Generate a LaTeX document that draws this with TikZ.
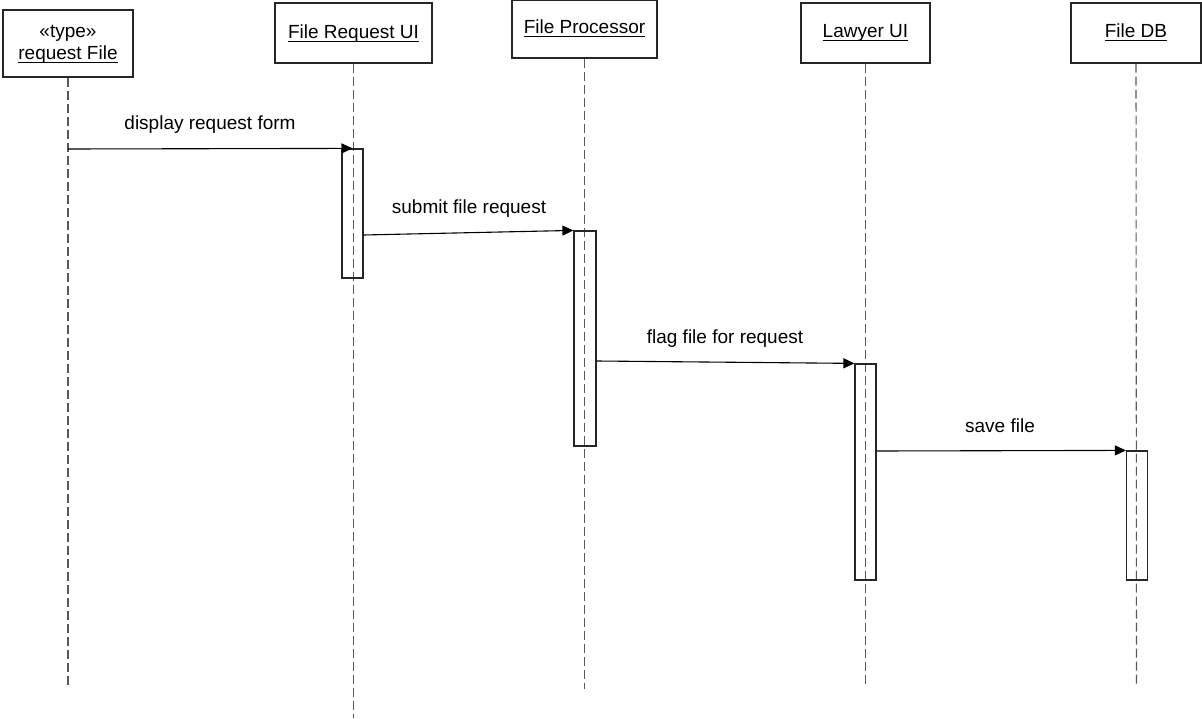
\documentclass[tikz,border=0pt]{standalone}
\usepackage{fontspec}
\setmainfont{Liberation Sans}
\usetikzlibrary{arrows.meta,calc}
% underline at a fixed depth below the baseline
\newcommand\undl[1]{\setbox0\hbox{#1}\rlap{\rule[-3pt]{\wd0}{0.9pt}}\box0}
\tikzset{
  head/.style={draw=black!85, line width=1.2pt, fill=white, inner sep=0pt},
  actbox/.style={draw=black!85, line width=1.2pt, inner sep=0pt, minimum width=21pt},
  life/.style={draw=black!65, line width=1.1pt, dash pattern=on 9pt off 4pt},
  msg/.style={draw=black, line width=1.1pt, -{Triangle[length=11pt,width=10pt]}},
  lbl/.style={anchor=base, inner sep=0pt},
}
\begin{document}
\begin{tikzpicture}[x=1pt, y=-1pt, font=\fontsize{19}{22}\selectfont]
\useasboundingbox (0,0) rectangle (1202,719);

% object heads
\node[head, minimum width=130pt, minimum height=67pt] (rf) at (68,43.5) {};
\node[head, minimum width=157pt, minimum height=60pt] (fru) at (353.5,33) {};
\node[head, minimum width=145pt, minimum height=57.5pt] (fp) at (584.5,29.25) {};
\node[head, minimum width=129pt, minimum height=60pt] (lw) at (865.5,33) {};
\node[head, minimum width=130pt, minimum height=60pt] (db) at (1136,33) {};

\node[lbl] (rft1) at (68,37.5) {«type»};
\node[lbl] (rft2) at (68,60) {\undl{request File}};
\node[lbl] (frut) at (353.5,39) {\undl{File Request UI}};
\node[lbl] (fpt) at (584.5,33.5) {\undl{File Processor}};
\node[lbl] (lwt) at (865.5,38) {\undl{Lawyer UI}};
\node[lbl] (dbt) at (1136,37.5) {\undl{File DB}};

% lifelines
\coordinate (rfEnd) at (68,685);
\coordinate (fruEnd) at (353.5,718);
\coordinate (fpEnd) at (584.5,689);
\coordinate (lwEnd) at (865.5,685);
\coordinate (dbEnd) at (1136.5,685);
\draw[life] (rf.south) -- (rfEnd);
\draw[life] (fru.south) -- (fruEnd);
\draw[life] (fp.south) -- (fpEnd);
\draw[life] (lw.south) -- (lwEnd);
\draw[life] (db.south) -- (dbEnd);

% activation bars
\node[actbox, minimum height=129pt] (act1) at (352.5,213.5) {};
\node[actbox, minimum width=22pt, minimum height=215pt] (act2) at (585,338.5) {};
\node[actbox, minimum height=216pt] (act3) at (865.5,472) {};
\node[actbox, minimum height=129pt] (act4) at (1137,515.5) {};

% messages
\coordinate (m1s) at (68,149);
\draw[msg] (m1s) -- (act1.north);
\draw[msg] (act1.east |- 0,235) -- (act2.north west);
\draw[msg] (act2.east |- 0,361) -- (act3.north west);
\draw[msg] (act3.east |- 0,451) -- (act4.north west);

\node[lbl] (l1) at (210,130) {display request form};
\node[lbl] (l2) at (469,214) {submit file request};
\node[lbl] (l3) at (725,344) {flag file for request};
\node[lbl] (l4) at (1000,432) {save file};
\end{tikzpicture}
\end{document}
